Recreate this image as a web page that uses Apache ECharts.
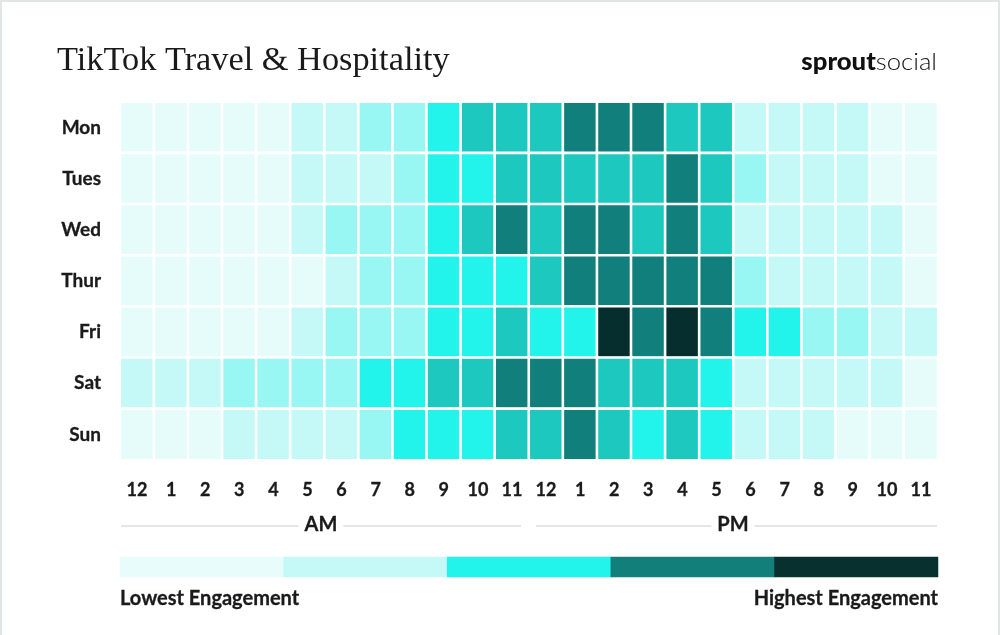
<!DOCTYPE html>
<html>
<head>
<meta charset="utf-8">
<script src="https://cdn.jsdelivr.net/npm/echarts@6/dist/echarts.min.js"></script>
<style>
  html, body { margin: 0; padding: 0; background: #fff; }
  #chart { width: 1000px; height: 635px; box-sizing: border-box; border: 2px solid #e1e5e5; border-bottom: none; }
</style>
</head>
<body>
<div id="chart"></div>
<script>
// engagement level 1 (lowest) .. 7 (highest), one value per hour
const days = ["Mon", "Tues", "Wed", "Thur", "Fri", "Sat", "Sun"]
const hourLabels = ["12", "1", "2", "3", "4", "5", "6", "7", "8", "9", "10", "11",
                    "12", "1", "2", "3", "4", "5", "6", "7", "8", "9", "10", "11"]

const mon  = [1, 1, 1, 1, 1, 2, 2, 3, 3, 4, 5, 5, 5, 6, 6, 6, 5, 5, 2, 2, 2, 2, 1, 1]
const tues = [1, 1, 1, 1, 1, 2, 2, 2, 3, 4, 4, 5, 5, 5, 5, 5, 6, 5, 3, 2, 2, 2, 1, 1]
const wed  = [1, 1, 1, 1, 1, 2, 3, 3, 3, 4, 5, 6, 5, 6, 6, 5, 6, 5, 2, 2, 2, 2, 2, 1]
const thur = [1, 1, 1, 1, 1, 1, 2, 3, 3, 4, 4, 4, 5, 6, 6, 6, 6, 6, 3, 2, 2, 2, 2, 1]
const fri  = [1, 1, 1, 1, 1, 2, 3, 3, 3, 4, 4, 5, 4, 4, 7, 6, 7, 6, 4, 4, 3, 3, 2, 2]
const sat  = [2, 2, 2, 3, 3, 3, 3, 4, 4, 5, 5, 6, 6, 6, 5, 5, 5, 4, 2, 2, 2, 2, 2, 1]
const sun  = [1, 1, 1, 2, 2, 2, 2, 3, 4, 4, 4, 5, 5, 6, 5, 4, 5, 4, 2, 2, 2, 1, 1, 1]

const levelColors = ["#e6fcfb", "#c4f9f8", "#98f7f3", "#22f3eb", "#1dc9be", "#117f7b", "#072e2e"]

// colour key below the chart
const legendLevels = [1, 2, 3, 4, 5]
const legendColors = ["#e8fcfb", "#c4f9f8", "#22f3eb", "#127f7b", "#07302f"]

const rows = [mon, tues, wed, thur, fri, sat, sun]
const heatData = []
rows.forEach((row, d) => {
    row.forEach((v, h) => heatData.push([h, d, v]))
})

const labelFont = "Lato, 'Open Sans', sans-serif"
const ink = "#1a1a1a"

const chart = echarts.init(document.getElementById("chart"))

const options = {
    animation: false,
    grid: [
        { left: 118, right: 60, top: 100, height: 358 },
        { left: 118, right: 60, top: 555, height: 20 },
    ],
    xAxis: [
        {
            type: "category",
            gridIndex: 0,
            data: hourLabels,
            axisLine: { show: false },
            axisTick: { show: false },
            splitLine: { show: false },
            axisLabel: {
                margin: 21,
                color: ink,
                fontFamily: labelFont,
                fontWeight: "bold",
                fontSize: 18,
                interval: 0,
                textBorderColor: ink,
                textBorderWidth: 0.3,
            },
        },
        {
            type: "category",
            gridIndex: 1,
            data: legendLevels,
            show: false,
        },
    ],
    yAxis: [
        {
            type: "category",
            gridIndex: 0,
            data: days,
            inverse: true,
            axisLine: { show: false },
            axisTick: { show: false },
            splitLine: { show: false },
            axisLabel: {
                margin: 19,
                color: ink,
                fontFamily: labelFont,
                fontWeight: "bold",
                fontSize: 19,
                padding: [3, 0, 0, 0],
                textBorderColor: ink,
                textBorderWidth: 0.3,
            },
        },
        {
            type: "category",
            gridIndex: 1,
            data: ["key"],
            show: false,
        },
    ],
    visualMap: [
        {
            type: "piecewise",
            show: false,
            seriesIndex: 0,
            dimension: 2,
            pieces: levelColors.map((c, i) => ({ value: i + 1, color: c })),
        },
        {
            type: "piecewise",
            show: false,
            seriesIndex: 1,
            dimension: 2,
            pieces: legendColors.map((c, i) => ({ value: legendLevels[i], color: c })),
        },
    ],
    series: [
        {
            type: "heatmap",
            xAxisIndex: 0,
            yAxisIndex: 0,
            data: heatData,
            itemStyle: { borderColor: "#ffffff", borderWidth: 2.6 },
            emphasis: { disabled: true },
        },
        {
            type: "heatmap",
            xAxisIndex: 1,
            yAxisIndex: 1,
            data: legendLevels.map((v, i) => [i, 0, v]),
            itemStyle: { borderWidth: 0 },
            emphasis: { disabled: true },
        },
    ],
    graphic: [
        {
            type: "text",
            x: 55,
            y: 59,
            scaleX: 1.04,
            style: {
                text: "TikTok Travel & Hospitality",
                fill: "#1a1a1a",
                font: "normal 33px 'Liberation Serif', serif",
                verticalAlign: "middle",
            },
        },
        {
            type: "text",
            x: 935,
            y: 60,
            scaleX: 1.07,
            style: {
                text: "{b|sprout}{r|social}",
                align: "right",
                verticalAlign: "middle",
                rich: {
                    b: { fontFamily: labelFont, fontWeight: 900, fontSize: 24, fill: "#111" },
                    r: { fontFamily: labelFont, fontWeight: 300, fontSize: 24, fill: "#111" },
                },
            },
        },
        // AM / PM brackets
        { type: "line", shape: { x1: 119, y1: 524, x2: 519, y2: 524 }, style: { stroke: "#dcdfdf", lineWidth: 1.5 } },
        { type: "line", shape: { x1: 534, y1: 524, x2: 935, y2: 524 }, style: { stroke: "#dcdfdf", lineWidth: 1.5 } },
        {
            type: "text", x: 319, y: 523,
            style: {
                text: "AM", fill: ink, font: "bold 20px " + labelFont,
                align: "center", verticalAlign: "middle",
                backgroundColor: "#fff", padding: [0, 6],
                stroke: ink, lineWidth: 0.3,
            },
        },
        {
            type: "text", x: 731, y: 523,
            style: {
                text: "PM", fill: ink, font: "bold 20px " + labelFont,
                align: "center", verticalAlign: "middle",
                backgroundColor: "#fff", padding: [0, 6],
                stroke: ink, lineWidth: 0.3,
            },
        },
        {
            type: "text", x: 118, y: 597,
            style: { text: "Lowest Engagement", fill: ink, font: "bold 20px " + labelFont, align: "left", verticalAlign: "middle", stroke: ink, lineWidth: 0.3 },
        },
        {
            type: "text", x: 936, y: 597,
            style: { text: "Highest Engagement", fill: ink, font: "bold 20px " + labelFont, align: "right", verticalAlign: "middle", stroke: ink, lineWidth: 0.3 },
        },
    ],
}

chart.setOption(options)
</script>
</body>
</html>
